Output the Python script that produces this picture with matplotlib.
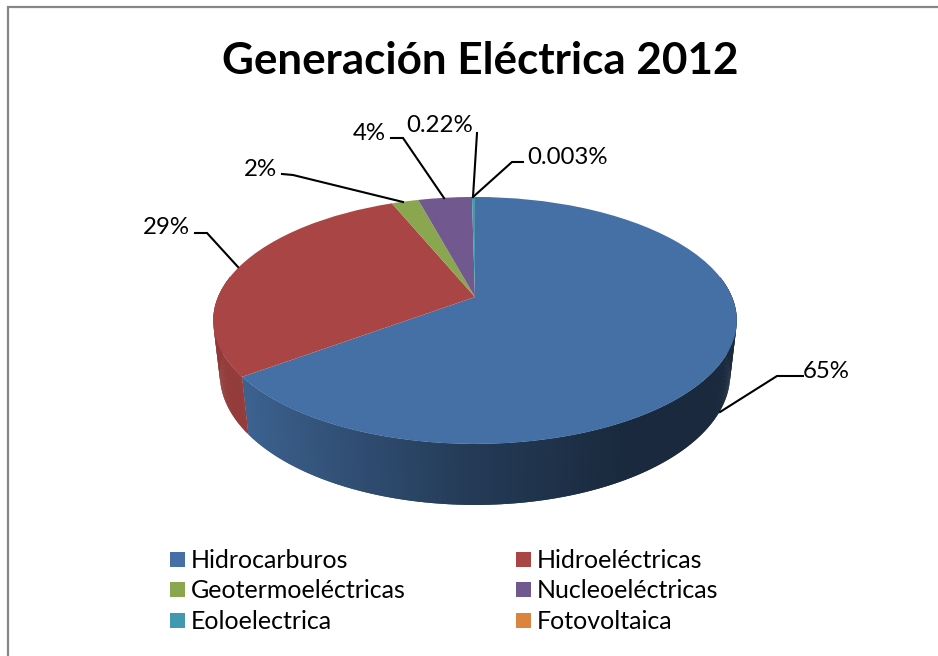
#!/usr/bin/env python
import numpy as np
import matplotlib
matplotlib.use('Agg')
import matplotlib.pyplot as plt
from matplotlib.collections import PolyCollection
from matplotlib.colors import to_rgb
from matplotlib.transforms import Transform

plt.rcParams['font.family'] = ['Lato', 'DejaVu Sans']

# data
fuentes = ['Hidrocarburos', 'Hidroeléctricas', 'Geotermoeléctricas',
           'Nucleoeléctricas', 'Eoloelectrica', 'Fotovoltaica']
porcentajes = [65, 29, 2, 4, 0.22, 0.003]
etiquetas = ['65%', '29%', '2%', '4%', '0.22%', '0.003%']
colores = ['#4570A5', '#A94544', '#8AA64E', '#71588F', '#4198AF', '#DB843D']


class TiltTransform(Transform):
    # maps the unit circle of the pie to the tilted disc, in image pixels
    input_dims = 2
    output_dims = 2

    def __init__(self, w, b):
        super().__init__()
        self.w = w
        self.b = b

    def transform_non_affine(self, values):
        values = np.asarray(values, dtype=float)
        u, v = values[:, 0], values[:, 1]
        den = 0.19 * v + self.w
        return np.column_stack((475 + 257 * u / den, (-62.6 * v + self.b) / den))


cara = TiltTransform(1.0, 297.0)
base = TiltTransform(1.025, 359.0)

fig = plt.figure(figsize=(9.38, 6.56), dpi=100)
ax = fig.add_axes([0, 0, 1, 1])

# top face is a normal pie pushed through the tilt
wedges, _ = ax.pie(porcentajes, colors=colores, startangle=90, counterclock=False,
                   wedgeprops={'linewidth': 0})
ax.set_aspect('auto')
ax.set_xlim(0, 938)
ax.set_ylim(656, 0)
ax.axis('off')
for w in wedges:
    w.set_transform(cara + ax.transData)
    w.set_zorder(3)

# side wall, strips overlap by one step so no seams show
limites = np.cumsum([0] + porcentajes) / sum(porcentajes) * 360
polys, tonos = [], []
for i, color in enumerate(colores):
    ini = max(limites[i], 80)
    fin = min(limites[i + 1], 280)
    if fin <= ini:
        continue
    angs = np.radians(np.linspace(ini, fin, max(3, int(fin - ini) * 2)))
    puntos = np.column_stack((np.sin(angs), np.cos(angs)))
    arriba = cara.transform(puntos)
    abajo = base.transform(puntos)
    for j in range(len(angs) - 1):
        k = min(j + 2, len(angs) - 1)
        polys.append([arriba[j], *arriba[j + 1:k + 1], *abajo[j + 1:k + 1][::-1], abajo[j]])
        f = np.interp(puntos[j, 0], [-1, -0.8, 0, 0.5, 1], [0.85, 0.88, 0.52, 0.37, 0.37])
        tonos.append(tuple(c * f for c in to_rgb(color)))
ax.add_collection(PolyCollection(polys, facecolors=tonos, edgecolors='none', zorder=2))

# leader lines and their labels
guias = [
    ([803, 777, 720], [376, 376, 412]),
    ([195, 207, 238], [233, 233, 267]),
    ([282, 293, 403], [174, 175, 202]),
    ([391, 403, 444], [138, 138, 198]),
    ([477, 473], [133, 197]),
    ([523, 512, 473], [162, 162, 197]),
]
pos_texto = [(803, 371), (190, 227), (277, 169), (386, 133), (473, 126), (527, 157)]
alineado = ['left', 'right', 'right', 'right', 'right', 'left']
for guia, pos, ha, txt in zip(guias, pos_texto, alineado, etiquetas):
    ax.plot(guia[0], guia[1], color='black', lw=1.5, zorder=4, solid_joinstyle='miter')
    ax.text(pos[0], pos[1], txt, ha=ha, va='center', fontsize=17.3, color='black')

ax.text(480, 61, 'Generación Eléctrica 2012', ha='center', va='center',
        fontsize=31.7, fontweight='bold', color='black')

# legend fills by column, reference reads by row
orden = [0, 2, 4, 1, 3, 5]
ax.legend([wedges[i] for i in orden], [fuentes[i] for i in orden], ncol=2,
          loc='upper left', bbox_to_anchor=(170, 549), bbox_transform=ax.transData,
          frameon=False, fontsize=18, handlelength=0.6, handleheight=0.546,
          handletextpad=0.24, labelspacing=0.30, columnspacing=4.4,
          borderpad=0, borderaxespad=0)

# chart frame, only top and left fall inside the picture
ax.plot([8, 8, 938], [656, 7, 7], color='#868686', lw=1.6, zorder=1,
        solid_joinstyle='miter')

fig.savefig('out.png', dpi=100)
